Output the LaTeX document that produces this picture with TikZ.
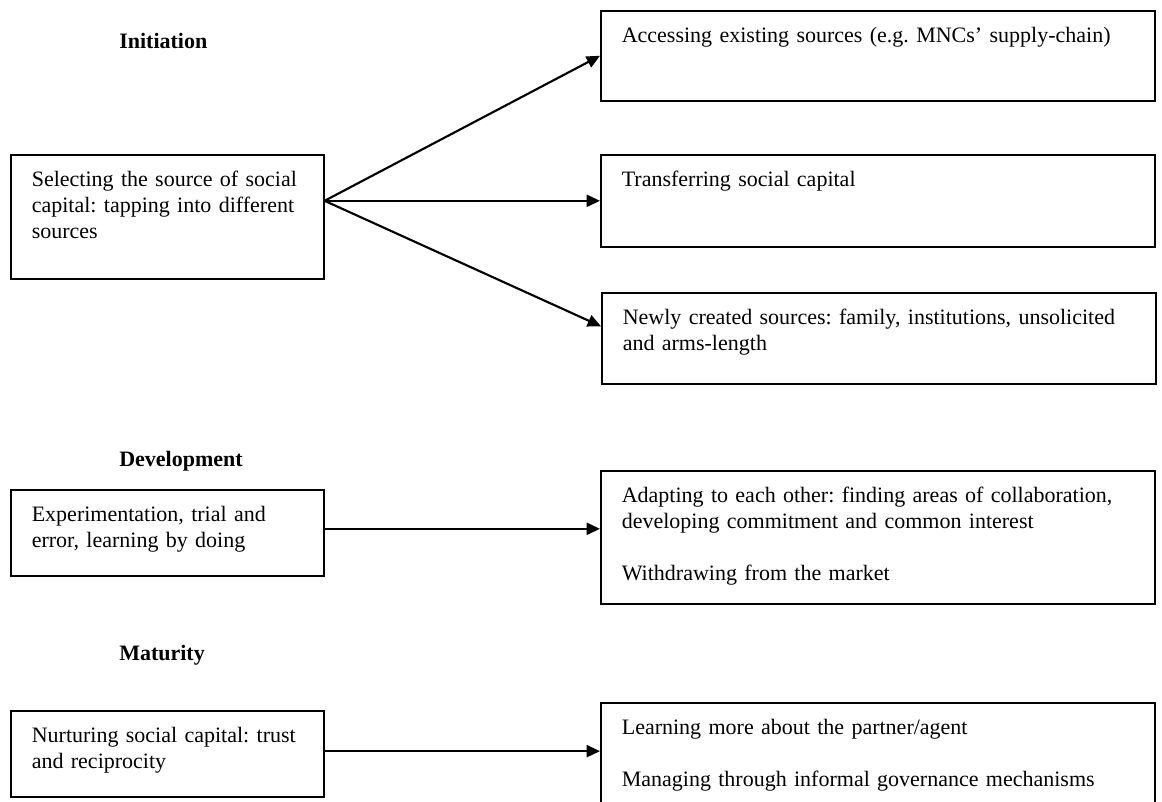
\documentclass[tikz,border=0pt]{standalone}
\usepackage{fontspec}
\setmainfont{Liberation Serif}
\usetikzlibrary{arrows.meta}
\frenchspacing

\begin{document}
\begin{tikzpicture}[x=0.75pt, y=-0.75pt]
\tikzset{BoxStyle/.style = {draw, line width=1.2pt, anchor=north west, align=left, inner xsep=15.75pt, inner ysep=0pt, text height=24pt, font={\fontsize{16.5}{19.5}\selectfont}}}
\tikzset{LeftBox/.style = {BoxStyle, text width=203.25pt}}
\tikzset{RightBox/.style = {BoxStyle, text width=384pt}}
\tikzset{StageStyle/.style = {anchor=west, inner sep=0pt, font={\fontsize{16.5}{19.5}\selectfont\bfseries}}}
\tikzset{EdgeStyle/.style = {-{Triangle[length=10pt, width=9pt]}, line width=1.6pt}}
	\useasboundingbox (0,0) rectangle (1162,801);

	\node[StageStyle] (init) at (119,41) {Initiation};
	\node[LeftBox, text depth=69pt] (select) at (10,154) {Selecting the source of social\\capital: tapping into different\\sources};
	\node[RightBox, text depth=43.5pt] (access) at (600,10) {Accessing existing sources (e.g. MNCs’ supply-chain)};
	\node[RightBox, text depth=45pt] (transfer) at (600,154) {Transferring social capital};
	\node[RightBox, text depth=44.25pt] (newly) at (601,292) {Newly created sources: family, institutions, unsolicited\\and arms-length};
	\draw[EdgeStyle] (select.east |- transfer.west) -- (access.west);
	\draw[EdgeStyle] (select.east |- transfer.west) -- (transfer.west);
	\draw[EdgeStyle] (select.east |- transfer.west) -- ([yshift=9pt]newly.west);

	\node[StageStyle] (devel) at (119,461) {Development};
	\node[LeftBox, text depth=40.5pt] (trial) at (10,489) {Experimentation, trial and\\error, learning by doing};
	\node[RightBox, text depth=75.75pt] (adapt) at (600,470) {Adapting to each other: finding areas of collaboration,\\developing commitment and common interest\\[19.5pt]Withdrawing from the market};
	\coordinate (trialout) at ([yshift=3pt]trial.east);
	\draw[EdgeStyle] (trialout) -- (trialout -| adapt.west);

	\node[StageStyle] (matur) at (119,655) {Maturity};
	\node[LeftBox, text depth=40.5pt] (nurture) at (10,710) {Nurturing social capital: trust\\and reciprocity};
	\node[RightBox, text depth=72pt] (learn) at (600,702) {Learning more about the partner/agent\\[19.5pt]Managing through informal governance mechanisms};
	\coordinate (nurtureout) at ([yshift=2pt]nurture.east);
	\draw[EdgeStyle] (nurtureout) -- (nurtureout -| learn.west);

\end{tikzpicture}
\end{document}
